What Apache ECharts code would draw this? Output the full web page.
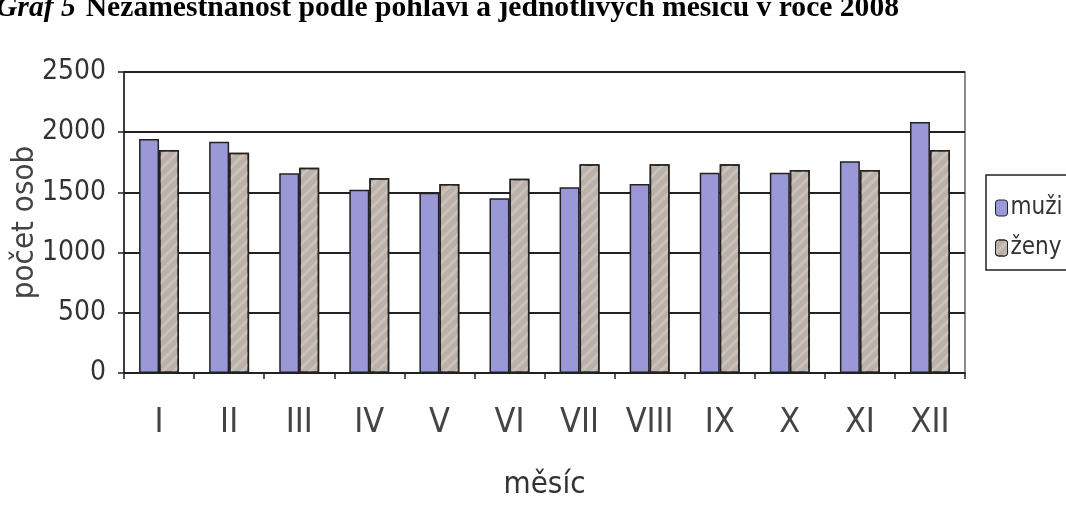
<!DOCTYPE html>
<html>
<head>
<meta charset="utf-8">
<script src="https://cdn.jsdelivr.net/npm/echarts@6/dist/echarts.min.js"></script>
<style>
  html, body { margin: 0; padding: 0; background: #fff; }
  #chart-container { width: 1066px; height: 528px; }
</style>
</head>
<body>
<div id="chart-container"></div>
<script>
// data
const months = ['I', 'II', 'III', 'IV', 'V', 'VI', 'VII', 'VIII', 'IX', 'X', 'XI', 'XII'];
const muzi = [1943, 1921, 1659, 1522, 1498, 1451, 1542, 1570, 1664, 1664, 1758, 2085];
const zeny = [1852, 1830, 1705, 1617, 1570, 1614, 1733, 1733, 1733, 1686, 1686, 1852];
const yTicks = [0, 500, 1000, 1500, 2000, 2500];

const dom = document.getElementById('chart-container');
const myChart = echarts.init(dom, null, { renderer: 'canvas' });

const narrow = '"DejaVu Sans Condensed", "Liberation Sans Narrow", "Liberation Sans", Arial, sans-serif';

const option = {
    backgroundColor: '#fff',
    animation: false,
    title: {
        left: -9,
        top: -12,
        text: '{a|Graf 5}  {b|Nezaměstnanost podle pohlaví a jednotlivých měsíců v roce 2008}',
        textStyle: {
            rich: {
                a: { fontFamily: '"Liberation Serif", serif', fontSize: 29.6, fontWeight: 'bold', fontStyle: 'italic', color: '#000' },
                b: { fontFamily: '"Liberation Serif", serif', fontSize: 29.6, fontWeight: 'bold', color: '#000' }
            }
        }
    },
    legend: {
        orient: 'vertical',
        left: 986,
        top: 175,
        padding: [21, 30, 10, 9],
        itemGap: 16,
        itemWidth: 12,
        itemHeight: 16,
        borderColor: '#222',
        borderWidth: 1.5,
        borderRadius: 0,
        data: ['muži', 'ženy'],
        textStyle: { fontFamily: narrow, fontSize: 24, color: '#333', padding: [0, 0, 0, -2] },
        itemStyle: { borderColor: '#222', borderWidth: 1 }
    },
    grid: {
        left: 124,
        right: 101,
        top: 72,
        bottom: 155,
        outerBoundsMode: 'none',
        containLabel: false,
        show: true,
        borderColor: '#666',
        borderWidth: 1.5
    },
    xAxis: {
        type: 'category',
        data: months,
        name: 'měsíc',
        nameLocation: 'middle',
        nameGap: 96,
        nameMoveOverlap: false,
        nameTextStyle: { fontFamily: narrow, fontSize: 31, color: '#333' },
        axisLine: { lineStyle: { color: '#222', width: 1.5 } },
        axisTick: { show: true, length: 6, lineStyle: { color: '#222', width: 1.5 } },
        axisLabel: { interval: 0, fontFamily: narrow, fontSize: 34, color: '#444', margin: 33 }
    },
    yAxis: {
        type: 'value',
        min: yTicks[0],
        max: yTicks[yTicks.length - 1],
        interval: 500,
        name: 'počet osob',
        nameLocation: 'middle',
        nameGap: 84,
        nameMoveOverlap: false,
        nameTextStyle: { fontFamily: narrow, fontSize: 31, color: '#444' },
        axisLine: { show: true, lineStyle: { color: '#222', width: 1.5 } },
        axisTick: { show: true, length: 6, lineStyle: { color: '#222', width: 1.5 } },
        axisLabel: { fontFamily: narrow, fontSize: 28, color: '#333', margin: 18, formatter: function (v) { return String(v); } },
        splitLine: { lineStyle: { color: '#222', width: 2 } }
    },
    series: [
        {
            name: 'muži',
            type: 'bar',
            data: muzi,
            barGap: '0%',
            barCategoryGap: '43%',
            itemStyle: { color: '#9b98d8', borderColor: '#222', borderWidth: 1.5 }
        },
        {
            name: 'ženy',
            type: 'bar',
            data: zeny,
            itemStyle: {
                color: '#bbb1ab',
                borderColor: '#222',
                borderWidth: 1.5,
                decal: {
                    symbol: 'rect',
                    dashArrayX: [1, 0],
                    dashArrayY: [3, 5],
                    rotation: -Math.PI / 4,
                    color: 'rgba(220, 210, 200, 0.5)'
                }
            }
        }
    ]
};

myChart.setOption(option, true);
</script>
</body>
</html>
